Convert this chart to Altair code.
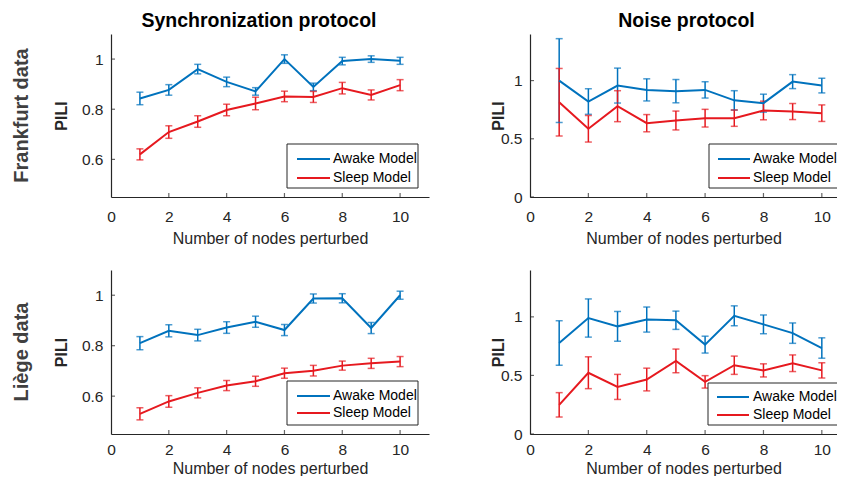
import altair as alt
import pandas as pd

# ---------------- data ----------------
nodes = [1, 2, 3, 4, 5, 6, 7, 8, 9, 10]
series_names = ["Awake Model", "Sleep Model"]
col_titles = ["Synchronization protocol", "Noise protocol"]
row_labels = ["Frankfurt data", "Liège data"]
x_ticks = [0, 2, 4, 6, 8, 10]
y_ticks_sync = [0.6, 0.8, 1.0]
y_ticks_noise = [0.0, 0.5, 1.0]

# Frankfurt, synchronization
fs_awake = [0.843, 0.877, 0.960, 0.909, 0.871, 1.000, 0.889, 0.992, 1.000, 0.993]
fs_awake_err = [0.025, 0.021, 0.019, 0.019, 0.015, 0.017, 0.015, 0.015, 0.013, 0.014]
fs_sleep = [0.620, 0.709, 0.751, 0.797, 0.823, 0.851, 0.849, 0.884, 0.857, 0.896]
fs_sleep_err = [0.022, 0.025, 0.023, 0.023, 0.025, 0.021, 0.022, 0.023, 0.020, 0.022]

# Frankfurt, noise
fn_awake = [1.000, 0.820, 0.957, 0.920, 0.909, 0.920, 0.830, 0.806, 0.991, 0.957]
fn_awake_err = [0.360, 0.110, 0.150, 0.095, 0.100, 0.070, 0.083, 0.077, 0.060, 0.063]
fn_sleep = [0.814, 0.586, 0.780, 0.634, 0.657, 0.677, 0.677, 0.743, 0.734, 0.720]
fn_sleep_err = [0.290, 0.114, 0.133, 0.074, 0.081, 0.076, 0.070, 0.080, 0.069, 0.071]

# Liège, synchronization
ls_awake = [0.810, 0.859, 0.842, 0.872, 0.895, 0.862, 0.987, 0.988, 0.870, 1.000]
ls_awake_err = [0.026, 0.024, 0.023, 0.023, 0.022, 0.022, 0.018, 0.018, 0.022, 0.016]
ls_sleep = [0.530, 0.579, 0.613, 0.642, 0.659, 0.691, 0.701, 0.721, 0.730, 0.737]
ls_sleep_err = [0.024, 0.023, 0.020, 0.020, 0.020, 0.020, 0.021, 0.018, 0.020, 0.020]

# Liège, noise
ln_awake = [0.777, 0.990, 0.919, 0.977, 0.971, 0.763, 1.009, 0.936, 0.861, 0.734]
ln_awake_err = [0.190, 0.163, 0.127, 0.107, 0.078, 0.072, 0.085, 0.080, 0.087, 0.087]
ln_sleep = [0.249, 0.523, 0.402, 0.465, 0.624, 0.445, 0.587, 0.543, 0.604, 0.543]
ln_sleep_err = [0.104, 0.136, 0.107, 0.097, 0.101, 0.053, 0.078, 0.056, 0.071, 0.065]

# ---------------- style ----------------
FONT = "Liberation Sans"
BLUE = "#0072BD"
RED = "#E6191F"
AXC = "#262626"
color_scale = alt.Scale(domain=series_names, range=[BLUE, RED])


def long_df(awake, awake_err, sleep, sleep_err):
    rows = []
    for name, vals, errs in [(series_names[0], awake, awake_err),
                             (series_names[1], sleep, sleep_err)]:
        for n, v, e in zip(nodes, vals, errs):
            rows.append({"x": n, "v": v, "lo": v - e, "hi": v + e, "series": name})
    return pd.DataFrame(rows)


def panel(awake, awake_err, sleep, sleep_err, ydom, yticks, w, h, xmax,
          title=None, title_dx=0, row_label=None, leg=None,
          ytitle_x=-50, xlab_pad=12, xtitle_pad=6):
    df = long_df(awake, awake_err, sleep, sleep_err)
    xs = alt.Scale(domain=[0, xmax], nice=False)
    ys = alt.Scale(domain=ydom, nice=False, zero=False)
    xax = alt.Axis(values=x_ticks, format="d", title="Number of nodes perturbed",
                   ticks=False, grid=False, labelFlush=False,
                   labelPadding=xlab_pad, titlePadding=xtitle_pad)
    yax = alt.Axis(values=yticks, format="~g", title="PILI", ticks=False,
                   grid=False, labelFlush=False, labelPadding=8,
                   titleX=ytitle_x, titleBaseline="middle")
    X = alt.X("x:Q", scale=xs, axis=xax)
    Y = alt.Y("v:Q", scale=ys, axis=yax)
    col = alt.Color("series:N", scale=color_scale, legend=None)

    base = alt.Chart(df)
    lines = base.mark_line(strokeWidth=2).encode(x=X, y=Y, color=col, detail="series:N")
    bars = base.mark_rule(strokeWidth=1.5).encode(
        x=alt.X("x:Q", scale=xs), y=alt.Y("lo:Q", scale=ys), y2="hi:Q", color=col)
    cap_lo = base.mark_tick(orient="horizontal", size=7, thickness=1.5).encode(
        x=alt.X("x:Q", scale=xs), y=alt.Y("lo:Q", scale=ys), color=col)
    cap_hi = base.mark_tick(orient="horizontal", size=7, thickness=1.5).encode(
        x=alt.X("x:Q", scale=xs), y=alt.Y("hi:Q", scale=ys), color=col)

    xt = alt.Chart(pd.DataFrame({"t": x_ticks[1:]})).mark_tick(
        orient="vertical", size=4, thickness=1.2, color=AXC).encode(
        x=alt.X("t:Q", scale=xs), y=alt.value(h - 2))
    yt = alt.Chart(pd.DataFrame({"t": yticks})).mark_tick(
        orient="horizontal", size=4, thickness=1.2, color=AXC).encode(
        y=alt.Y("t:Q", scale=ys), x=alt.value(2))

    one = alt.Chart(pd.DataFrame({"k": [0]}))
    bx1, by1, bx2, by2, lx1, lx2, tx, ya, ysl = leg
    box = one.mark_rect(fill="white", stroke=AXC, strokeWidth=1, clip=True).encode(
        x=alt.value(bx1), x2=alt.value(bx2), y=alt.value(by1), y2=alt.value(by2))
    la = one.mark_rule(color=BLUE, strokeWidth=2, clip=True).encode(
        x=alt.value(lx1), x2=alt.value(lx2), y=alt.value(ya))
    ls = one.mark_rule(color=RED, strokeWidth=2, clip=True).encode(
        x=alt.value(lx1), x2=alt.value(lx2), y=alt.value(ysl))
    ta = one.mark_text(align="left", baseline="middle", font=FONT, fontSize=14,
                       color="#000000", clip=True).encode(
        x=alt.value(tx), y=alt.value(ya), text=alt.value(series_names[0]))
    ts = one.mark_text(align="left", baseline="middle", font=FONT, fontSize=14,
                       color="#000000", clip=True).encode(
        x=alt.value(tx), y=alt.value(ysl), text=alt.value(series_names[1]))

    layers = [bars, cap_lo, cap_hi, lines, xt, yt, box, la, ls, ta, ts]
    if row_label is not None:
        rl = one.mark_text(angle=270, align="center", baseline="middle", font=FONT,
                           fontSize=20, fontWeight="bold", color="#404040").encode(
            x=alt.value(-89), y=alt.value(h / 2), text=alt.value(row_label))
        layers.append(rl)

    ch = alt.layer(*layers).properties(width=w, height=h)
    if title is not None:
        ch = ch.properties(title=alt.TitleParams(
            title, font=FONT, fontSize=19.5, fontWeight="bold", color="#000000",
            anchor="middle", frame="group", dx=title_dx, offset=-12,
            baseline="alphabetic"))
    return ch


WL, WR = 318, 307
HT, HB = 163, 164
XL, XR = 11, 10.52

p11 = panel(fs_awake, fs_awake_err, fs_sleep, fs_sleep_err, [0.45, 1.1], y_ticks_sync,
            WL, HT, XL, title=col_titles[0], title_dx=-11, row_label=row_labels[0],
            leg=(176, 110, 307, 154, 186, 219, 222, 125, 144), ytitle_x=-50)
p12 = panel(fn_awake, fn_awake_err, fn_sleep, fn_sleep_err, [0, 1.4], y_ticks_noise,
            WR, HT, XR, title=col_titles[1], title_dx=3,
            leg=(179, 110, 330, 154, 188, 220, 223, 125, 144), ytitle_x=-32)
p21 = panel(ls_awake, ls_awake_err, ls_sleep, ls_sleep_err, [0.45, 1.1], y_ticks_sync,
            WL, HB, XL, row_label=row_labels[1],
            leg=(176, 111, 307, 155, 186, 219, 222, 126, 143), ytitle_x=-50,
            xlab_pad=8.5, xtitle_pad=2)
p22 = panel(ln_awake, ln_awake_err, ln_sleep, ln_sleep_err, [0, 1.4], y_ticks_noise,
            WR, HB, XR,
            leg=(178, 113, 330, 155, 187, 219, 223, 127, 145), ytitle_x=-32,
            xlab_pad=8.5, xtitle_pad=2)

top = alt.hconcat(p11, p12, spacing=61)
bottom = alt.hconcat(p21, p22, spacing=61)

chart = alt.vconcat(top, bottom, spacing=23).properties(
    padding={"left": 4, "top": 2, "right": 0, "bottom": 0}
).configure_view(stroke=None).configure_axis(
    domainColor=AXC, domainWidth=1.2, labelFont=FONT, labelFontSize=15.5,
    labelColor=AXC, titleFont=FONT, titleColor=AXC, labelFontWeight="normal"
).configure_axisX(
    titleFontSize=16, titleFontWeight="normal"
).configure_axisY(
    titleFontSize=16, titleFontWeight="bold", titleColor="#262626"
)

chart.save("out.html", embed_options={"renderer": "svg", "actions": False})
